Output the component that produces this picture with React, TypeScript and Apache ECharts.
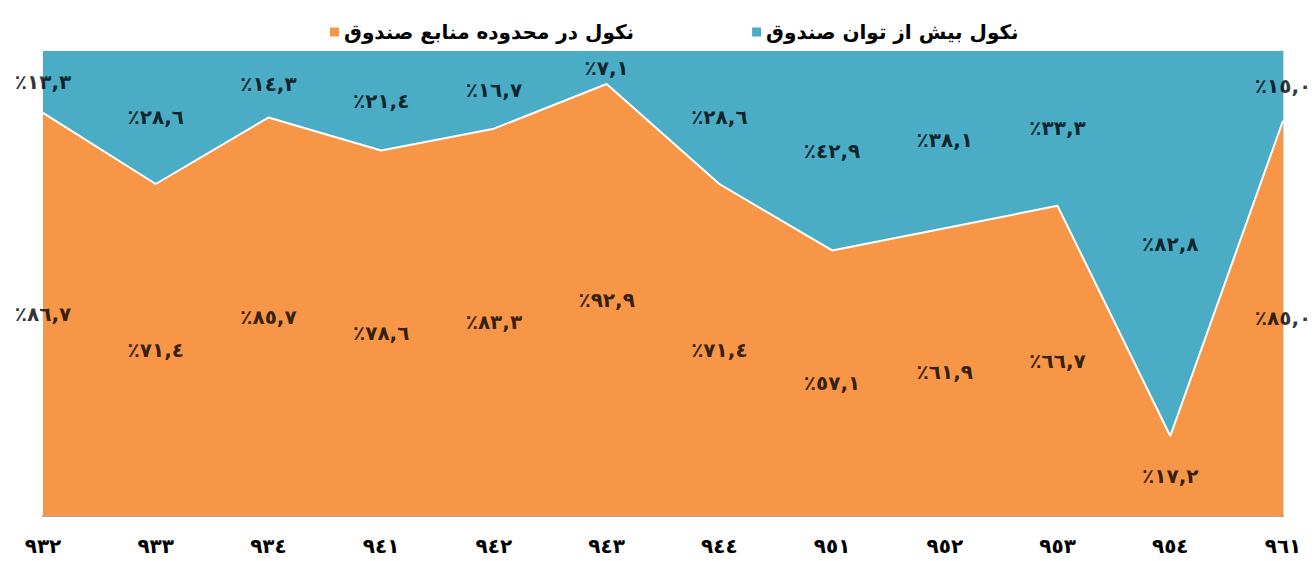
import React, { useEffect, useRef } from "react";
import * as echarts from "echarts";

const categories = ["٩٣٢", "٩٣٣", "٩٣٤", "٩٤١", "٩٤٢", "٩٤٣", "٩٤٤", "٩٥١", "٩٥٢", "٩٥٣", "٩٥٤", "٩٦١"];
const withinFund = [86.7, 71.4, 85.7, 78.6, 83.3, 92.9, 71.4, 57.1, 61.9, 66.7, 17.2, 85.0];
const beyondFund = [13.3, 28.6, 14.3, 21.4, 16.7, 7.1, 28.6, 42.9, 38.1, 33.3, 82.8, 15.0];
const seriesNames = ["نکول در محدوده منابع صندوق", "نکول بیش از توان صندوق"];

const arabicDigits = "٠١٢٣٤٥٦٧٨٩";
const fmt = (v: number) =>
  "{p|٪}{n|" +
  v.toFixed(1).replace(/\d/g, (d) => arabicDigits[Number(d)]).replace(".", ",") +
  "}";

const FONT = "DejaVu Sans";

export default function App() {
  const ref = useRef<HTMLDivElement>(null);
  useEffect(() => {
    if (!ref.current) return;
    const chart = echarts.init(ref.current, undefined, { renderer: "svg" });
    const textBase = {
      color: "#000",
      fontFamily: FONT,
      fontWeight: "bold" as const,
      fontSize: 20,
    };
    const labelStyle = {
      show: true,
      position: "inside" as const,
      ...textBase,
      formatter: (p: any) => fmt(p.value[2]),
      rich: { p: { ...textBase }, n: { ...textBase } },
    };
    chart.setOption({
      animation: false,
      backgroundColor: "#fff",
      legend: {
        top: 17,
        left: 325,
        icon: "rect",
        itemWidth: 9,
        itemHeight: 9,
        itemGap: 118,
        data: seriesNames,
        textStyle: { fontFamily: FONT, fontWeight: "bold", fontSize: 20, color: "#000" },
      },
      grid: { left: 43, right: 32, top: 51, bottom: 45 },
      xAxis: {
        type: "category",
        data: categories,
        boundaryGap: false,
        axisLine: { lineStyle: { color: "#A6A6A6", width: 2 } },
        axisTick: { show: false },
        axisLabel: {
          margin: 20,
          color: "#000",
          fontFamily: FONT,
          fontWeight: "bold",
          fontSize: 20,
        },
      },
      yAxis: {
        type: "value",
        min: 0,
        max: 100,
        position: "right",
        axisLine: { show: true, lineStyle: { color: "#D9D9D9", width: 2 } },
        axisTick: { show: false },
        axisLabel: { show: false },
        splitLine: { show: false },
      },
      series: [
        {
          name: seriesNames[0],
          type: "line",
          stack: "total",
          data: withinFund,
          symbol: "none",
          itemStyle: { color: "#F79646" },
          lineStyle: { color: "#fff", width: 2 },
          areaStyle: { color: "#F79646", opacity: 1 },
          z: 3,
        },
        {
          name: seriesNames[1],
          type: "line",
          stack: "total",
          data: beyondFund,
          symbol: "none",
          itemStyle: { color: "#4BACC6" },
          lineStyle: { width: 0 },
          areaStyle: { color: "#4BACC6", opacity: 1 },
          z: 2,
        },
        {
          type: "scatter",
          symbolSize: 0,
          silent: true,
          data: withinFund.map((v, i) => [i, v / 2, v]),
          label: labelStyle,
          z: 5,
        },
        {
          type: "scatter",
          symbolSize: 0,
          silent: true,
          data: beyondFund.map((v, i) => [i, withinFund[i] + v / 2, v]),
          label: labelStyle,
          z: 5,
        },
      ],
    });
    return () => chart.dispose();
  }, []);
  return (
    <div
      ref={ref}
      style={{ position: "absolute", left: 0, top: 0, width: 1315, height: 561 }}
    />
  );
}
